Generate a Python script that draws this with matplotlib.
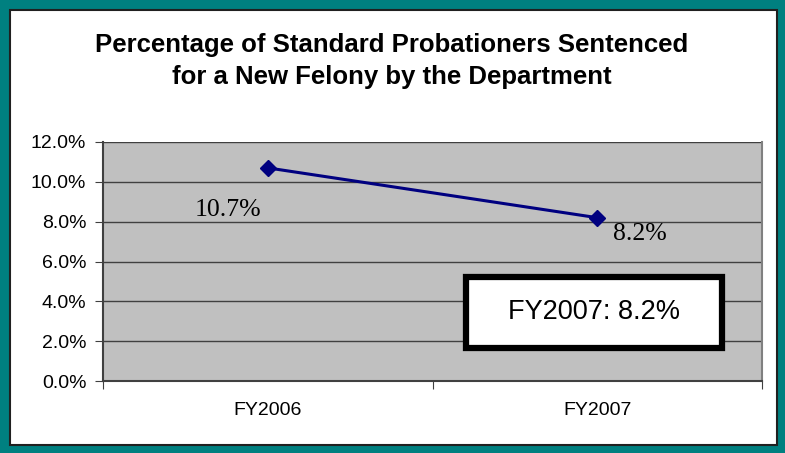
import matplotlib
matplotlib.use("Agg")
import matplotlib.pyplot as plt
from matplotlib.patches import Rectangle
from matplotlib.ticker import FuncFormatter

categories = ["FY2006", "FY2007"]
values = [10.7, 8.2]
value_labels = ["10.7%", "8.2%"]
yticks = [0, 2, 4, 6, 8, 10, 12]
title = "Percentage of Standard Probationers Sentenced\nfor a New Felony by the Department"
box_text = "FY2007: 8.2%"

W, H = 785, 453
fig = plt.figure(figsize=(W / 100, H / 100), dpi=100)
fig.patch.set_facecolor("#008080")

# inner white panel
panel = Rectangle((10 / W, 8 / H), 767 / W, 435 / H, transform=fig.transFigure,
                  facecolor="white", edgecolor="#202020", linewidth=1.5, zorder=-5)
fig.patches.append(panel)

ax = fig.add_axes([103 / W, 1 - 381 / H, 659 / W, 239 / H])
ax.set_zorder(1)
ax.set_facecolor("#C0C0C0")
x = [0.5, 1.5]
ax.plot(x, values, color="#000080", linewidth=2.2, marker="D", markersize=8.5,
        markerfacecolor="#000080", markeredgecolor="#000080", zorder=3, clip_on=False)
ax.set_xlim(0, 2)
ax.set_ylim(0, 12)
ax.set_yticks(yticks)
ax.yaxis.set_major_formatter(FuncFormatter(lambda v, p: f"{v:.1f}%"))
ax.set_xticks([0, 1, 2])
ax.set_xticklabels([])
ax.set_xticks(x, minor=True)
ax.set_xticklabels(categories, minor=True)
ax.tick_params(axis="x", which="minor", length=0, pad=15, labelsize=14, labelfontfamily="Liberation Sans")
ax.tick_params(axis="x", which="major", length=6, direction="out", color="#404040")
ax.tick_params(axis="y", length=6, direction="out", color="#404040", labelsize=14, pad=6, labelfontfamily="Liberation Sans")
ax.grid(axis="y", color="#404040", linewidth=1)
ax.set_axisbelow(True)
ax.spines["top"].set_visible(False)
ax.spines["right"].set_color("#808080")
ax.spines["right"].set_linewidth(1.5)
for s in ["left", "bottom"]:
    ax.spines[s].set_color("#404040")
    ax.spines[s].set_linewidth(1.5)

ax.text(x[0] - 0.12, values[0] - 2.1, value_labels[0], family="Liberation Serif",
        fontsize=18.5, ha="center", va="center", color="black")
ax.text(x[1] + 0.129, values[1] - 0.8, value_labels[1], family="Liberation Serif",
        fontsize=18.5, ha="center", va="center", color="black")

fig.text(392 / W, 1 - 61 / H, title, ha="center", va="center", fontsize=18.5,
         fontweight="bold", family="Liberation Sans", linespacing=1.4)

box = Rectangle((466 / W, 1 - 348 / H), 256 / W, 71 / H, transform=fig.transFigure,
                facecolor="white", edgecolor="black", linewidth=4.5, zorder=5)
fig.patches.append(box)
fig.text(594 / W, 1 - 312 / H, box_text, ha="center", va="center", fontsize=19.5,
         family=["Liberation Sans", "DejaVu Sans"], zorder=6)

fig.savefig("out.png", dpi=100, facecolor=fig.get_facecolor())
